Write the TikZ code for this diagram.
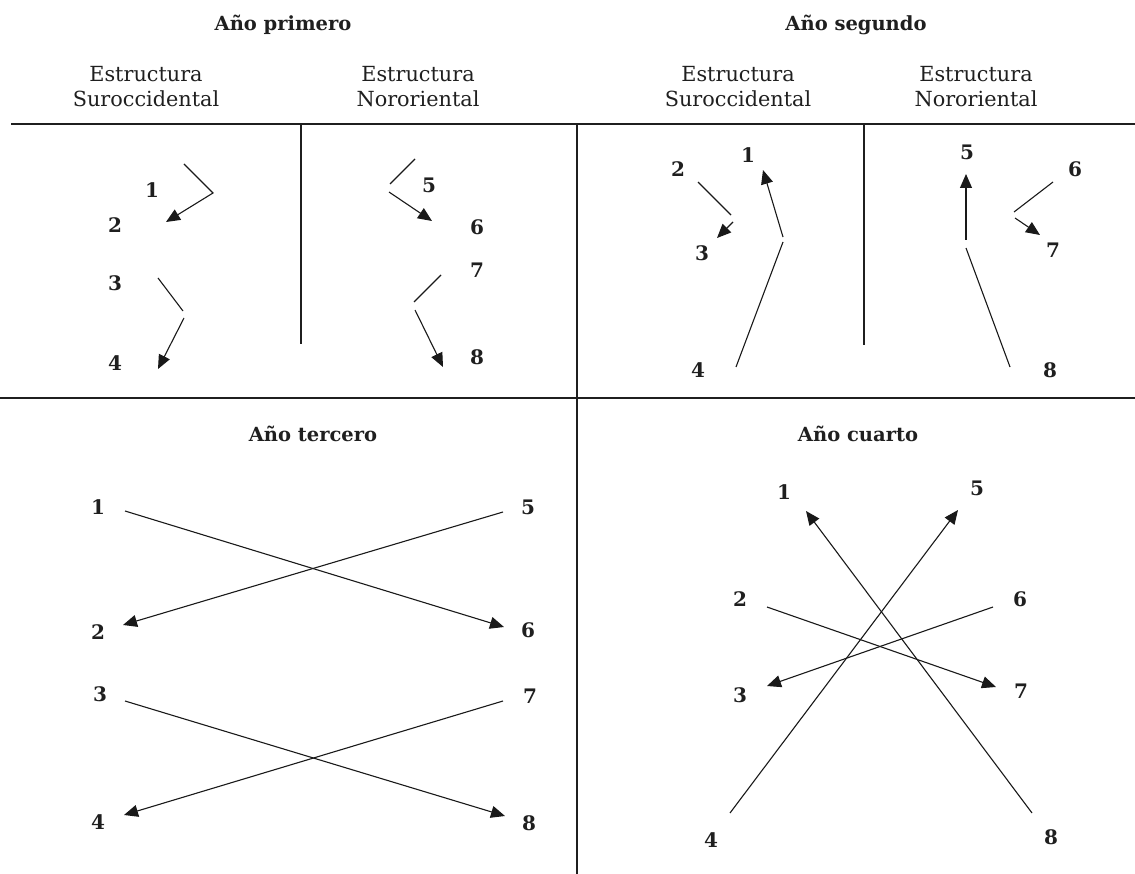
\documentclass[tikz,border=0pt]{standalone}
\usepackage{fontspec}
\setmainfont{DejaVu Serif}
\usetikzlibrary{arrows.meta}
\begin{document}
\begin{tikzpicture}[x=1pt,y=-1pt,
  frame/.style={line width=2.4pt, color=black!88},
  conn/.style={line width=1.1pt, color=black!90},
  arr/.style={conn,-{Triangle[length=14pt,width=12pt]}},
  num/.style={font=\fontsize{20}{22}\selectfont\bfseries, inner sep=0pt, text=black!88},
  ttl/.style={font=\fontsize{19.5}{22}\selectfont\bfseries, inner sep=0pt, text=black!88},
  head/.style={font=\fontsize{20.8}{25}\selectfont, align=center, inner sep=0pt, text=black!88}]
\useasboundingbox (0,0) rectangle (1135,874);
% frame
\coordinate (tl) at (11,124); \coordinate (tr) at (1135,124);
\coordinate (ml) at (0,398); \coordinate (mr) at (1135,398);
\coordinate (vt) at (577,124); \coordinate (vb) at (577,874);
\coordinate (sat) at (301,124); \coordinate (sab) at (301,344);
\coordinate (sbt) at (864,124); \coordinate (sbb) at (864,345);
\draw[frame] (tl) -- (tr);
\draw[frame] (ml) -- (mr);
\draw[frame] (vt) -- (vb);
\draw[frame] (sat) -- (sab);
\draw[frame] (sbt) -- (sbb);
% titles
\node[ttl] (t1) at (283,25) {Año primero};
\node[ttl] (t2) at (856,25) {Año segundo};
\node[ttl] (t3) at (313,434) {Año tercero};
\node[ttl] (t4) at (858,434) {Año cuarto};
\node[head] (h1) at (146,87) {Estructura\\Suroccidental};
\node[head] (h2) at (418,87) {Estructura\\Nororiental};
\node[head] (h3) at (738,87) {Estructura\\Suroccidental};
\node[head] (h4) at (976,87) {Estructura\\Nororiental};
% ---------- Año primero
\node[num] (a1) at (152,190) {1};
\node[num] (a2) at (115,225) {2};
\node[num] (a3) at (115,283) {3};
\node[num] (a4) at (115,363) {4};
\node[num] (a5) at (429,185) {5};
\node[num] (a6) at (477,227) {6};
\node[num] (a7) at (477,270) {7};
\node[num] (a8) at (477,357) {8};
\coordinate (a12s) at (184,164); \coordinate (a12m) at (213,193); \coordinate (a12e) at (166,222);
\draw[arr] (a12s) -- (a12m) -- (a12e);
\coordinate (a34s) at (158,278); \coordinate (a34m) at (183,311);
\coordinate (a34n) at (184,318); \coordinate (a34e) at (158,369);
\draw[conn] (a34s) -- (a34m);
\draw[arr] (a34n) -- (a34e);
\coordinate (a56s) at (415,159); \coordinate (a56m) at (390,184);
\coordinate (a56n) at (389,192); \coordinate (a56e) at (432,221);
\draw[conn] (a56s) -- (a56m);
\draw[arr] (a56n) -- (a56e);
\coordinate (a78s) at (441,275); \coordinate (a78m) at (414,302);
\coordinate (a78n) at (415,310); \coordinate (a78e) at (443,367);
\draw[conn] (a78s) -- (a78m);
\draw[arr] (a78n) -- (a78e);
% ---------- Año segundo
\node[num] (b1) at (748,155) {1};
\node[num] (b2) at (678,169) {2};
\node[num] (b3) at (702,253) {3};
\node[num] (b4) at (698,370) {4};
\node[num] (b5) at (967,152) {5};
\node[num] (b6) at (1075,169) {6};
\node[num] (b7) at (1053,250) {7};
\node[num] (b8) at (1050,370) {8};
\coordinate (b23s) at (698,182); \coordinate (b23m) at (731,215);
\coordinate (b23n) at (733,222); \coordinate (b23e) at (717,238);
\draw[conn] (b23s) -- (b23m);
\draw[arr] (b23n) -- (b23e);
\coordinate (b41s) at (736,367); \coordinate (b41m) at (783,242);
\coordinate (b41n) at (783,237); \coordinate (b41e) at (763,170);
\draw[conn] (b41s) -- (b41m);
\draw[arr] (b41n) -- (b41e);
\coordinate (b85s) at (1010,367); \coordinate (b85m) at (966,248);
\coordinate (b85n) at (966,240); \coordinate (b85e) at (966,174);
\draw[conn] (b85s) -- (b85m);
\draw[arr] (b85n) -- (b85e);
\coordinate (b67s) at (1053,182); \coordinate (b67m) at (1014,212);
\coordinate (b67n) at (1015,218); \coordinate (b67e) at (1040,235);
\draw[conn] (b67s) -- (b67m);
\draw[arr] (b67n) -- (b67e);
% ---------- Año tercero
\node[num] (c1) at (98,507) {1};
\node[num] (c5) at (528,507) {5};
\node[num] (c2) at (98,632) {2};
\node[num] (c6) at (528,630) {6};
\node[num] (c3) at (100,694) {3};
\node[num] (c7) at (530,696) {7};
\node[num] (c4) at (98,822) {4};
\node[num] (c8) at (529,823) {8};
\coordinate (c16s) at (125,511); \coordinate (c16e) at (504,627);
\coordinate (c52s) at (503,512); \coordinate (c52e) at (123,625);
\coordinate (c38s) at (125,701); \coordinate (c38e) at (505,816);
\coordinate (c74s) at (503,701); \coordinate (c74e) at (124,815);
\draw[arr] (c16s) -- (c16e);
\draw[arr] (c52s) -- (c52e);
\draw[arr] (c38s) -- (c38e);
\draw[arr] (c74s) -- (c74e);
% ---------- Año cuarto
\node[num] (d1) at (784,492) {1};
\node[num] (d5) at (977,488) {5};
\node[num] (d2) at (740,599) {2};
\node[num] (d6) at (1020,599) {6};
\node[num] (d3) at (740,695) {3};
\node[num] (d7) at (1021,691) {7};
\node[num] (d4) at (711,840) {4};
\node[num] (d8) at (1051,837) {8};
\coordinate (d45s) at (730,813); \coordinate (d45e) at (958,510);
\coordinate (d81s) at (1032,813); \coordinate (d81e) at (806,511);
\coordinate (d27s) at (767,607); \coordinate (d27e) at (996,687);
\coordinate (d63s) at (993,607); \coordinate (d63e) at (767,686);
\draw[arr] (d45s) -- (d45e);
\draw[arr] (d81s) -- (d81e);
\draw[arr] (d27s) -- (d27e);
\draw[arr] (d63s) -- (d63e);
\end{tikzpicture}
\end{document}
